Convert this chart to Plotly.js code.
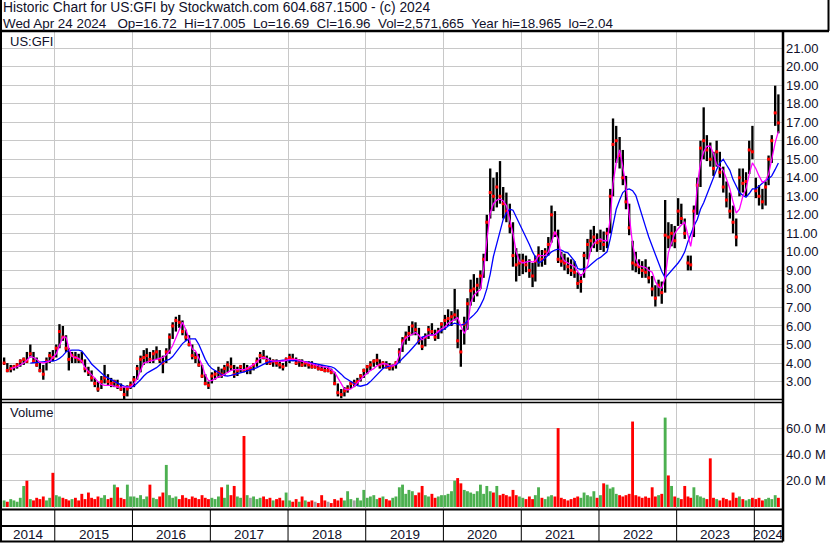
<!DOCTYPE html>
<html><head><meta charset="utf-8">
<script src="https://cdn.plot.ly/plotly-3.0.1.min.js"></script>
<style>html,body{margin:0;padding:0;background:#fff}#chart{width:830px;height:543px}</style>
</head><body><div id="chart"></div>
<script>
// ---- half-month sampling periods, May 2014 .. Apr 2024 ----
const firstYear = 2014, firstMonth = 5, lastYear = 2024, lastMonth = 4;
const halfDays = ['08', '23'];

// ---- price range per half-month (high / low / close) ----
const high = [
  4.3,4.0,3.9,3.9,4.0,4.2,4.3,4.6,5.0,4.6,4.3,4.0,3.9,4.3,4.6,4.7,
  5.0,6.1,6.0,5.5,4.8,4.6,4.6,4.5,4.6,4.2,3.8,3.6,3.2,3.0,3.3,3.9,3.4,3.2,3.1,3.1,2.9,2.7,2.8,3.0,
  3.3,3.9,4.4,4.7,4.8,4.6,4.7,4.9,4.7,4.4,4.8,5.6,6.2,6.5,6.6,6.3,5.8,5.5,5.0,4.6,4.5,3.9,3.4,3.0,
  3.5,3.6,3.8,3.7,3.9,4.1,4.3,3.9,3.8,3.9,4.0,3.9,3.8,4.0,4.3,4.6,4.7,4.4,4.3,4.2,4.2,4.1,4.0,4.3,
  4.5,4.5,4.3,4.2,4.2,4.1,4.1,4.1,4.0,3.9,3.9,3.8,3.8,3.7,3.5,2.9,2.6,2.7,2.8,3.0,3.1,3.2,3.4,3.7,
  3.9,4.1,4.2,4.5,4.2,4.1,4.1,4.0,3.9,4.1,4.8,5.4,5.7,6.0,6.25,6.2,5.9,5.4,5.6,6.0,6.15,5.8,5.9,6.2,
  6.6,6.9,6.8,8.0,6.9,5.8,6.5,7.5,8.5,8.8,8.6,9.0,9.9,12.0,14.5,14.0,14.3,14.9,13.5,13.2,12.6,11.6,10.2,9.9,
  9.9,9.8,9.6,9.4,9.8,10.3,10.1,10.2,10.8,12.5,12.2,11.2,10.0,9.9,9.7,9.6,9.5,8.9,8.8,10.0,10.7,11.2,11.4,11.0,
  11.2,11.1,11.3,13.4,17.2,16.8,16.2,15.5,14.1,12.6,10.6,10.0,9.6,9.5,9.6,9.2,8.7,8.2,8.5,8.4,12.8,11.6,11.5,11.4,
  12.9,12.6,11.8,9.8,9.8,12.5,14.0,16.0,17.8,16.3,15.9,15.4,16.0,15.4,14.6,13.8,13.2,12.5,11.8,14.5,14.5,14.3,16.0,16.8,
  14.0,13.6,13.4,13.8,15.2,16.3,18.97,18.5
];
const low = [
  3.9,3.5,3.5,3.6,3.7,3.8,3.9,4.0,4.3,4.0,3.8,3.5,3.1,3.6,4.0,4.1,
  4.3,4.8,5.2,4.6,3.6,4.0,4.0,4.0,4.0,3.5,3.3,3.0,2.7,2.45,2.6,2.9,2.8,2.7,2.7,2.6,2.5,2.05,2.2,2.6,
  2.7,3.1,3.5,3.9,4.0,4.0,4.0,4.2,4.0,3.45,4.0,4.5,5.3,5.7,5.9,5.5,5.2,4.9,4.2,4.0,3.8,3.2,2.8,2.6,
  2.9,3.1,3.2,3.2,3.3,3.5,3.6,3.2,3.3,3.5,3.5,3.4,3.4,3.6,3.8,4.0,4.2,3.9,3.9,3.8,3.8,3.7,3.6,3.8,
  4.0,4.1,3.9,3.8,3.8,3.8,3.7,3.7,3.7,3.6,3.6,3.5,3.5,3.4,2.8,2.2,2.1,2.2,2.4,2.6,2.7,2.8,3.0,3.2,
  3.4,3.6,3.8,3.9,3.7,3.7,3.7,3.6,3.6,3.7,4.0,4.6,5.0,5.2,5.5,5.5,5.0,4.7,4.9,5.3,5.5,5.2,5.3,5.6,
  5.8,6.0,6.0,6.3,4.8,3.8,5.0,5.8,7.1,7.3,7.6,8.0,8.6,9.5,11.8,12.2,12.4,12.6,11.8,11.6,11.0,9.2,8.4,8.7,
  8.8,8.9,8.6,8.1,8.4,9.2,9.2,9.3,9.8,10.5,10.8,9.4,9.2,9.0,8.8,8.7,8.6,8.0,7.8,8.6,9.6,10.0,10.2,10.0,
  10.1,10.0,10.2,11.0,13.0,14.8,14.5,13.6,12.3,10.9,9.0,8.9,8.8,8.6,8.6,8.3,7.6,7.05,7.6,7.2,7.8,10.2,10.3,10.2,
  11.4,11.5,10.7,9.0,9.0,10.8,12.0,13.5,15.0,14.9,14.6,14.1,14.6,14.0,13.2,12.4,11.8,11.0,10.3,13.0,13.2,13.0,14.2,15.0,
  12.9,12.5,12.3,12.5,13.6,14.8,16.8,16.4
];
const close = [
  4.0,3.6,3.7,3.8,3.9,4.1,4.2,4.1,4.5,4.1,3.9,3.6,3.4,4.1,4.4,4.3,
  4.8,5.7,5.4,4.8,4.2,4.4,4.3,4.2,4.1,3.7,3.5,3.2,2.9,2.6,3.0,3.2,3.0,2.9,3.0,2.75,2.6,2.3,2.6,2.8,
  3.1,3.7,4.2,4.3,4.4,4.2,4.5,4.6,4.2,4.0,4.6,5.4,6.0,6.3,6.2,5.7,5.4,5.0,4.4,4.3,3.9,3.3,2.9,2.8,
  3.3,3.4,3.5,3.4,3.7,3.9,3.8,3.4,3.6,3.8,3.6,3.7,3.7,3.9,4.1,4.4,4.3,4.1,4.0,4.1,4.0,3.9,3.8,4.2,
  4.3,4.2,4.0,4.1,3.9,4.0,3.9,3.8,3.8,3.7,3.65,3.6,3.6,3.5,2.9,2.4,2.3,2.5,2.6,2.9,2.9,3.0,3.3,3.6,
  3.8,3.9,4.1,4.15,3.9,4.0,3.8,3.75,3.85,4.0,4.6,5.2,5.4,5.6,6.0,5.8,5.2,4.9,5.4,5.8,5.7,5.4,5.7,6.1,
  6.3,6.4,6.5,6.6,5.2,4.6,6.1,7.2,7.9,8.0,8.2,8.7,9.6,11.6,13.2,13.0,13.5,13.0,12.6,12.2,11.4,9.8,9.3,9.4,
  9.5,9.3,9.0,8.7,9.5,9.8,9.6,10.0,10.4,12.0,11.0,9.6,9.5,9.4,9.2,9.0,8.9,8.3,8.4,9.8,10.4,10.6,10.8,10.5,
  10.6,10.4,11.0,13.0,15.8,16.0,15.2,14.0,12.7,11.3,9.4,9.3,9.2,9.0,8.9,8.6,8.0,7.5,8.2,7.8,10.9,10.8,11.0,10.6,
  12.2,11.8,11.0,9.4,9.3,12.2,13.6,15.6,16.0,15.5,15.0,14.5,15.4,14.3,13.5,12.8,12.2,11.6,10.8,14.0,13.7,13.8,15.5,15.4,
  13.3,13.0,12.7,13.5,15.0,16.0,17.5,16.96
];
// ---- volume (millions of shares) ----
const volume = [
  5,4,6,5,4,7,16,20,6,5,7,6,8,5,7,26,
  9,8,7,6,5,6,7,5,10,6,11,7,6,8,7,9,6,7,17,15,7,6,17,8,
  8,7,9,6,8,17,7,6,8,11,32,9,7,8,6,9,7,6,8,7,6,9,7,6,
  7,6,8,15,7,17,9,16,8,7,54,9,7,8,6,7,8,6,7,5,6,7,5,11,
  5,4,6,4,8,5,4,5,4,3,9,5,4,3,6,5,7,5,12,6,5,7,5,13,
  7,8,9,6,7,8,6,5,7,8,15,17,10,13,12,9,11,16,9,8,10,7,8,9,
  9,10,12,20,22,18,13,12,11,10,12,17,10,16,12,11,16,9,10,9,8,13,9,8,
  7,6,8,6,9,15,7,6,8,9,8,60,7,6,5,6,7,8,7,11,9,8,12,7,
  9,18,17,14,15,10,9,8,9,10,65,9,8,7,8,7,15,8,9,10,68,24,16,8,
  7,6,16,8,7,15,9,8,7,6,37,7,6,5,7,6,5,11,7,8,6,5,6,7,
  6,7,5,6,7,6,9,7
];
// ---- moving averages (magenta short, blue long) ----
const maShort = [
  null,null,3.7,3.75,3.8,3.9,4.0,4.15,4.35,4.3,4.2,4.05,4.0,4.05,4.1,4.3,
  4.5,4.95,5.4,5.4,4.8,4.35,4.3,4.25,4.1,3.75,3.55,3.35,3.15,3.0,2.85,2.8,2.8,2.8,2.75,2.7,2.7,2.7,2.7,2.7,
  2.9,3.15,3.6,4.0,4.05,4.1,4.15,4.2,4.25,4.3,4.45,4.65,4.95,5.4,5.8,6.2,5.8,5.3,4.75,4.65,4.3,3.9,3.35,3.05,
  3.05,3.15,3.25,3.3,3.4,3.5,3.6,3.65,3.65,3.65,3.65,3.7,3.8,3.9,4.05,4.25,4.3,4.25,4.15,4.1,4.1,4.1,4.1,4.15,
  4.2,4.2,4.2,4.15,4.1,4.05,4.0,3.95,3.9,3.85,3.8,3.78,3.75,3.65,3.5,3.2,2.85,2.6,2.55,2.6,2.75,2.95,3.1,3.3,
  3.45,3.6,3.7,3.85,3.92,3.97,3.95,3.85,3.85,3.95,4.4,5.1,5.35,5.45,5.55,5.65,5.5,5.25,5.4,5.5,5.5,5.55,5.7,5.85,
  5.95,6.15,6.25,6.35,6.45,6.0,5.6,5.9,7.25,7.65,7.85,7.95,9.05,10.6,12.1,12.6,12.8,12.85,12.75,12.5,11.8,11.0,10.0,9.5,
  9.4,9.45,9.5,9.45,9.5,9.8,9.8,9.8,10.0,10.5,11.1,10.7,9.8,9.5,9.4,9.3,9.2,8.95,8.7,8.9,9.25,10.15,10.45,10.65,
  10.7,10.6,10.6,11.8,13.7,14.8,15.5,14.6,13.5,12.0,10.4,9.6,9.25,9.2,9.15,9.0,8.9,8.4,8.1,8.05,8.6,9.95,10.5,11.0,
  11.25,11.45,11.6,10.9,10.3,11.4,13.6,14.8,15.4,15.7,15.7,15.3,14.7,14.6,14.4,13.95,13.4,12.7,12.1,12.3,13.0,13.4,14.2,14.8,
  14.5,14.1,13.75,13.85,14.2,15.0,15.9,16.5
];
const maLong = [
  null,null,null,null,null,null,null,null,4.0,4.02,4.05,4.05,4.07,4.1,4.1,4.1,
  4.15,4.25,4.4,4.6,4.67,4.7,4.7,4.7,4.65,4.45,4.2,3.95,3.8,3.65,3.5,3.3,3.2,3.1,3.0,2.9,2.82,2.75,2.72,2.7,
  2.75,2.9,3.1,3.3,3.45,3.55,3.65,3.75,3.9,4.05,4.15,4.2,4.35,4.6,4.8,5.05,5.2,5.3,5.3,5.3,5.0,4.55,4.2,3.9,
  3.7,3.6,3.47,3.38,3.32,3.3,3.33,3.37,3.43,3.48,3.53,3.58,3.62,3.68,3.75,3.85,3.95,4.02,4.07,4.1,4.12,4.13,4.15,4.15,
  4.15,4.15,4.15,4.12,4.1,4.07,4.05,4.0,3.97,3.93,3.9,3.87,3.84,3.8,3.72,3.58,3.4,3.22,3.1,3.0,2.9,2.78,2.75,2.78,
  2.85,3.0,3.2,3.4,3.55,3.7,3.8,3.85,3.88,3.9,4.05,4.25,4.4,4.6,4.8,5.0,5.2,5.4,5.45,5.48,5.5,5.55,5.65,5.75,
  5.85,6.0,6.1,6.15,6.1,6.05,6.1,6.3,6.45,6.6,6.8,7.1,7.45,8.0,8.8,9.75,10.5,11.15,11.75,12.1,12.3,12.25,11.9,11.5,
  11.1,10.75,10.4,10.0,9.7,9.4,9.5,9.65,9.85,10.0,10.1,10.15,10.1,10.0,9.95,9.75,9.5,9.1,9.05,9.1,9.15,9.3,9.45,9.6,
  9.7,9.85,10.0,10.7,11.4,12.3,12.8,13.2,13.35,13.4,13.3,13.05,12.5,12.0,11.35,10.8,10.3,9.8,9.35,8.95,8.6,8.8,8.95,9.2,
  9.4,9.65,10.0,10.55,11.0,11.4,11.75,12.3,12.65,13.1,13.55,14.0,14.45,14.8,15.0,14.7,14.4,13.9,13.5,13.2,13.05,12.95,13.15,13.4,
  13.4,13.55,13.75,13.85,13.95,14.1,14.45,14.8
];

// ---- axis labels ----
const years = ['2014','2015','2016','2017','2018','2019','2020','2021','2022','2023','2024'];
const priceTicks = [3,4,5,6,7,8,9,10,11,12,13,14,15,16,17,18,19,20,21];
const volTicks = [20,40,60];
const volTickText = ['20.0 M','40.0 M','60.0 M'];
const headerLine1 = 'Historic Chart for US:GFI by Stockwatch.com 604.687.1500 - (c) 2024';
const headerLine2 = 'Wed Apr 24 2024\u00a0\u00a0 Op=16.72\u00a0 Hi=17.005\u00a0 Lo=16.69\u00a0 Cl=16.96\u00a0 Vol=2,571,665\u00a0 Year hi=18.965\u00a0 lo=2.04';
const symbol = 'US:GFI';

// ---- build period dates ----
const dates = [];
for (let y = firstYear; y <= lastYear; y++) {
  for (let m = 1; m <= 12; m++) {
    if (y === firstYear && m < firstMonth) continue;
    if (y === lastYear && m > lastMonth) break;
    const mm = String(m).padStart(2, '0');
    halfDays.forEach(d => dates.push(y + '-' + mm + '-' + d));
  }
}

const W = 830, H = 543;
const px = v => v / W, py = v => (H - v) / H;
const xRange = ['2014-04-28', '2024-05-10'];
const yearStarts = years.slice(1).map(y => y + '-01-01');
const FONT = 'Liberation Sans, Arial, sans-serif';
const TXT = '#10102a';
const GRID = '#c8c8c8';
const DAY = 86400000;

const volColors = volume.map((v, i) => {
  if (i === 0) return '#4cb050';
  if (close[i] > close[i - 1]) return '#4cb050';
  if (close[i] < close[i - 1]) return '#ff0000';
  return '#a0a0a0';
});

const traces = [
  { type: 'bar', x: dates, base: low, y: high.map((h, i) => h - low[i]),
    width: 11 * DAY, marker: { color: '#000000', line: { width: 0 } },
    xaxis: 'x', yaxis: 'y', hoverinfo: 'skip' },
  { type: 'scatter', mode: 'markers', x: dates, y: close,
    marker: { symbol: 'square', size: 3, color: '#ff0000' },
    xaxis: 'x', yaxis: 'y', hoverinfo: 'skip' },
  { type: 'scatter', mode: 'lines', x: dates, y: maLong,
    line: { color: '#0000ff', width: 1.3 }, xaxis: 'x', yaxis: 'y', hoverinfo: 'skip' },
  { type: 'scatter', mode: 'lines', x: dates, y: maShort,
    line: { color: '#ff00ff', width: 1.3 }, xaxis: 'x', yaxis: 'y', hoverinfo: 'skip' },
  { type: 'bar', x: dates, y: volume, width: 13.5 * DAY,
    marker: { color: volColors, line: { width: 0 } },
    xaxis: 'x2', yaxis: 'y2', hoverinfo: 'skip' }
];

// year label positions (centre of visible part of each year)
const bounds = [xRange[0]].concat(yearStarts, [xRange[1]]).map(s => Date.parse(s));
const fmt = ms => new Date(ms).toISOString().slice(0, 19).replace('T', ' ');
const annotations = [
  { text: headerLine1, xref: 'paper', yref: 'paper', x: px(2), y: py(7.4), xanchor: 'left', yanchor: 'middle',
    showarrow: false, borderpad: 0, font: { family: FONT, size: 13.8, color: TXT } },
  { text: headerLine2, xref: 'paper', yref: 'paper', x: px(2), y: py(23.0), xanchor: 'left', yanchor: 'middle',
    showarrow: false, borderpad: 0, font: { family: FONT, size: 13.4, color: TXT } },
  { text: symbol, xref: 'paper', yref: 'paper', x: px(8), y: py(41), xanchor: 'left', yanchor: 'middle', showarrow: false, font: { family: FONT, size: 13, color: TXT } },
  { text: 'Volume', xref: 'paper', yref: 'paper', x: px(8), y: py(413), xanchor: 'left', yanchor: 'middle', showarrow: false, font: { family: FONT, size: 13, color: TXT } }
];
years.forEach((y, i) => {
  annotations.push({ text: y, xref: 'x2', yref: 'paper', x: fmt((bounds[i] + bounds[i + 1]) / 2),
    y: py(534), xanchor: 'center', yanchor: 'middle', showarrow: false,
    font: { family: FONT, size: 13.5, color: TXT } });
});

const line = (x0, y0, x1, y1, w) => ({ type: 'line', xref: 'paper', yref: 'paper',
  x0: px(x0), y0: py(y0), x1: px(x1), y1: py(y1), line: { color: '#000', width: w } });
const shapes = [
  line(0, 31, 829, 31, 2.5),
  line(828.5, 0, 828.5, 31, 2),
  line(1, 0, 1, 541, 2),
  line(783, 31, 783, 541.5, 2.5),
  line(0, 399.5, 783, 399.5, 1.5),
  line(0, 402.5, 783, 402.5, 1.5),
  line(0, 509.5, 783, 509.5, 2),
  line(0, 526, 783, 526, 2),
  line(0, 541.5, 783, 541.5, 2)
];
yearStarts.forEach(d => {
  shapes.push({ type: 'line', xref: 'x2', yref: 'paper', x0: d, x1: d, y0: py(510), y1: py(541),
    line: { color: '#000', width: 1 } });
});

const xCommon = { type: 'date', range: xRange, tickvals: yearStarts, showticklabels: false,
  ticks: '', showgrid: true, gridcolor: GRID, gridwidth: 1, zeroline: false, showline: false,
  fixedrange: true };
const layout = {
  width: W, height: H, margin: { l: 0, r: 0, t: 0, b: 0, pad: 0 },
  paper_bgcolor: '#fff', plot_bgcolor: '#fff', showlegend: false, barmode: 'overlay',
  font: { family: FONT, size: 13, color: TXT },
  xaxis: Object.assign({}, xCommon, { domain: [px(2), px(782)], anchor: 'y' }),
  xaxis2: Object.assign({}, xCommon, { domain: [px(2), px(782)], anchor: 'y2', matches: 'x' }),
  yaxis: { domain: [py(399), py(31)], range: [2.06, 21.92], side: 'right', anchor: 'x',
    tickvals: priceTicks, ticktext: priceTicks.map(v => v.toFixed(2)), ticks: '',
    showgrid: true, gridcolor: GRID, zeroline: false, showline: false, ticklabelstandoff: 3,
    tickfont: { family: FONT, size: 13, color: TXT } },
  yaxis2: { domain: [py(508), py(403)], range: [-0.76, 79.1], side: 'right', anchor: 'x2',
    tickvals: volTicks, ticktext: volTickText, ticks: '',
    showgrid: true, gridcolor: GRID, zeroline: false, showline: false, ticklabelstandoff: 3,
    tickfont: { family: FONT, size: 13, color: TXT } },
  annotations: annotations, shapes: shapes
};
Plotly.newPlot('chart', traces, layout, { staticPlot: true, displayModeBar: false });
</script></body></html>
